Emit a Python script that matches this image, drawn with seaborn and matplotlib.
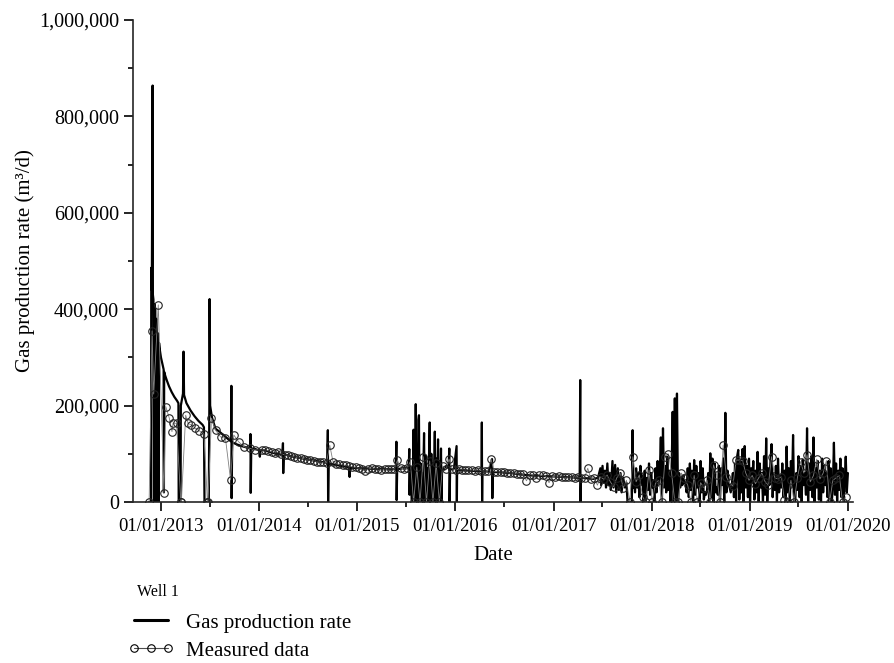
import numpy as np
import pandas as pd
import matplotlib
matplotlib.use("Agg")
import matplotlib.pyplot as plt
import matplotlib.dates as mdates
from matplotlib.ticker import FuncFormatter, MultipleLocator
from matplotlib.lines import Line2D
import seaborn as sns

# ---------------- data (days since 2013-01-01, rates in thousand m3/d) ----------------
ORIGIN = "2013-01-01"

# production-rate line, explicit points (2012-11 .. 2017-10)
rate_days_early = [
    -44, -37, -36, -34, -31, -30, -28, -26, -24, -21,
    -19, -17, -15, -13, -11, -9, -7, -4, 0, 4,
    8, 10, 11, 12, 16, 22, 30, 40, 50, 60,
    65, 66, 73, 74, 82, 84, 86, 95, 110, 125,
    140, 155, 160, 162, 178, 180, 181, 183, 190, 203,
    215, 230, 245, 255, 261, 262, 263, 265, 280, 300,
    320, 332, 333, 334, 336, 350, 365, 368, 370, 388,
    410, 430, 452, 454, 455, 457, 492, 520, 560, 600,
    619, 621, 622, 624, 660, 700, 702, 704, 740, 780,
    820, 860, 874, 876, 877, 879, 900, 922, 924, 925,
    927,
]
rate_k_early = [
    0, 0, 486, 440, 864, 430, 420, 0, 410, 400,
    0, 380, 360, 0, 350, 0, 330, 315, 300, 290,
    280, 275, 20, 270, 262, 252, 240, 228, 218, 210,
    205, 0, 0, 200, 225, 312, 222, 205, 190, 178,
    168, 160, 155, 0, 0, 195, 421, 200, 175, 152,
    147, 140, 133, 128, 126, 241, 8, 124, 120, 116,
    113, 112, 141, 19, 110, 110, 107, 94, 108, 107,
    103, 100, 100, 122, 60, 99, 94, 91, 87, 83,
    81, 149, 0, 80, 76, 72, 52, 71, 70, 69,
    68, 68, 68, 125, 4, 68, 70, 70, 110, 15,
    71,
]

rate_days_2015 = [
    930, 933, 937, 940, 942, 946, 948, 950, 953, 955,
    958, 960, 962, 966, 968, 972, 974, 979, 981, 986,
    988, 992, 994, 1000, 1002, 1006, 1009, 1013, 1015, 1019,
    1021, 1025, 1027, 1031, 1033, 1036, 1038, 1042, 1044, 1046,
]
rate_k_2015 = [
    72, 0, 0, 150, 0, 0, 203, 0, 90, 0,
    170, 180, 0, 80, 0, 60, 0, 143, 0, 95,
    0, 70, 0, 165, 0, 100, 0, 80, 0, 146,
    0, 90, 0, 130, 0, 85, 0, 111, 0, 70,
]

rate_days_2016 = [
    1055, 1062, 1070, 1073, 1074, 1076, 1090, 1100, 1101, 1102,
    1120, 1150, 1180, 1193, 1194, 1195, 1196, 1220, 1232, 1233,
    1235, 1250, 1280, 1300, 1330, 1356, 1380, 1420, 1453, 1500,
    1530, 1558, 1560, 1561, 1563, 1590, 1610, 1626,
]
rate_k_2016 = [
    68, 75, 70, 111, 0, 68, 68, 116, 0, 67,
    66, 65, 64, 64, 165, 0, 64, 63, 89, 8,
    62, 62, 61, 60, 58, 56, 55, 54, 53, 52,
    51, 50, 253, 0, 50, 49, 48, 50,
]

rate_days_2017 = [
    1635, 1638, 1643, 1647, 1652, 1656, 1661, 1665, 1670, 1674,
    1680, 1684, 1690, 1694, 1700, 1704, 1710, 1714, 1720, 1726,
    1732, 1736, 1752, 1755, 1757,
]
rate_k_2017 = [
    70, 35, 75, 40, 65, 30, 80, 35, 60, 25,
    85, 30, 77, 20, 70, 25, 60, 20, 50, 30,
    40, 0, 0, 149, 30,
]

# noisy period 2017-11 .. 2020-01, one reading every 4 days
noisy_start_day = 1760
noisy_step_days = 4
rate_k_noisy = [
    45, 20, 70, 30, 60, 10, 75, 35, 55, 0, 65, 0, 50, 25, 80, 15, 60, 30, 45, 0,
    70, 20, 85, 40, 60, 134, 0, 153, 30, 75, 20, 94, 25, 65, 0, 60, 187, 0, 215, 0,
    225, 0, 60, 30, 50, 35, 55, 40, 45, 20, 70, 10, 80, 25, 65, 0, 87, 15, 75, 30,
    60, 0, 85, 20, 70, 5, 20, 15, 25, 60, 0, 101, 10, 90, 0, 80, 20, 30, 15, 75,
    0, 70, 35, 90, 0, 185, 20, 65, 40, 30, 20, 35, 60, 10, 80, 0, 95, 108, 5, 85,
    20, 110, 0, 116, 30, 75, 10, 90, 0, 70, 40, 85, 5, 65, 20, 104, 0, 80, 30, 60,
    0, 95, 15, 132, 0, 70, 35, 85, 120, 10, 60, 25, 75, 0, 90, 20, 55, 30, 80, 10,
    65, 0, 115, 20, 70, 0, 85, 30, 139, 0, 0, 60, 25, 95, 10, 75, 0, 88, 35, 60,
    15, 153, 0, 80, 25, 95, 10, 134, 0, 70, 30, 85, 5, 65, 0, 90, 20, 75, 35, 60,
    10, 85, 0, 70, 0, 30, 123, 15, 80, 0, 65, 25, 90, 10, 70, 0, 40, 94, 20, 60,
]

# measured data, explicit early points
meas_days_early = [
    -44, -33, -27, -10, 11, 18, 31, 41, 45, 58,
    74, 76, 92, 101, 113, 127, 142, 160, 173, 175,
    188, 203, 222, 240, 259, 271, 289, 308, 333, 351,
    376,
]
meas_k_early = [
    0, 355, 224, 409, 19, 198, 174, 146, 164, 163,
    0, 0, 180, 163, 160, 153, 148, 141, 0, 0,
    174, 149, 135, 132, 46, 139, 125, 115, 111, 108,
    108,
]
# measured data afterwards, one reading every 12 days
meas_start_day = 388
meas_step_days = 12
meas_k_regular = [
    108, 106, 104, 102, 103, 100, 98, 97, 95, 94,
    92, 91, 90, 88, 87, 86, 84, 83, 82, 81,
    118, 84, 79, 78, 77, 76, 74, 73, 72, 70,
    68, 64, 69, 70, 68, 69, 67, 68, 68, 69,
    68, 87, 70, 69, 70, 84, 0, 72, 0, 94,
    0, 85, 0, 80, 0, 75, 68, 89, 68, 67,
    68, 67, 66, 67, 66, 65, 66, 65, 64, 64,
    89, 63, 63, 62, 62, 61, 60, 60, 59, 58,
    58, 44, 57, 56, 49, 55, 55, 54, 40, 53,
    52, 53, 52, 51, 52, 51, 50, 51, 50, 50,
    70, 48, 50, 35, 52, 47, 56, 42, 32, 50,
    60, 29, 45, 0, 94, 42, 56, 11, 0, 66,
    0, 39, 45, 0, 94, 100, 60, 0, 0, 60,
    49, 35, 0, 55, 0, 40, 30, 45, 0, 77,
    56, 0, 118, 52, 39, 33, 87, 87, 86, 60,
    45, 55, 38, 50, 60, 42, 35, 94, 50, 48,
    52, 4, 0, 45, 0, 50, 84, 60, 98, 42,
    55, 89, 48, 60, 86, 0, 45, 50, 55, 0,
    11,
]

y_ticks = [0, 200000, 400000, 600000, 800000, 1000000]
x_label = "Date"
y_label = "Gas production rate (m\u00b3/d)"
legend_title = "Well 1"
legend_labels = ["Gas production rate", "Measured data"]

# ---------------- build tables ----------------
origin = pd.Timestamp(ORIGIN)
noisy_days = [noisy_start_day + noisy_step_days * i for i in range(len(rate_k_noisy))]
rate_days = rate_days_early + rate_days_2015 + rate_days_2016 + rate_days_2017 + noisy_days
rate_k = rate_k_early + rate_k_2015 + rate_k_2016 + rate_k_2017 + rate_k_noisy
rate_df = pd.DataFrame({
    "date": origin + pd.to_timedelta(rate_days, unit="D"),
    "rate": np.array(rate_k, dtype=float) * 1000,
})

meas_reg_days = [meas_start_day + meas_step_days * i for i in range(len(meas_k_regular))]
meas_df = pd.DataFrame({
    "date": origin + pd.to_timedelta(meas_days_early + meas_reg_days, unit="D"),
    "rate": np.array(meas_k_early + meas_k_regular, dtype=float) * 1000,
})

# ---------------- style ----------------
sns.set_style("ticks")
plt.rcParams["font.family"] = ["Liberation Serif", "DejaVu Serif"]
plt.rcParams["axes.linewidth"] = 1.2
plt.rcParams["text.color"] = "black"
plt.rcParams["axes.labelcolor"] = "black"
plt.rcParams["xtick.color"] = "black"
plt.rcParams["ytick.color"] = "black"

fig = plt.figure(figsize=(8.94, 6.63), dpi=100)
ax = fig.add_axes([133 / 894, 1 - 502 / 663, 720 / 894, 482 / 663])

sns.lineplot(data=rate_df, x="date", y="rate", ax=ax, color="black",
             linewidth=1.6, estimator=None, sort=False, legend=False)
sns.lineplot(data=meas_df, x="date", y="rate", ax=ax, color="0.5",
             linewidth=0.6, marker="o", markersize=5.4, markerfacecolor="none",
             markeredgecolor="#222222", markeredgewidth=0.8,
             estimator=None, sort=False, legend=False)

ax.set_ylim(0, 1000000)
ax.set_xlim(pd.Timestamp("2012-09-19"), pd.Timestamp("2020-01-20"))
ax.set_yticks(y_ticks)
ax.yaxis.set_minor_locator(MultipleLocator(100000))
ax.yaxis.set_major_formatter(FuncFormatter(lambda v, p: f"{v:,.0f}"))
ax.xaxis.set_major_locator(mdates.YearLocator())
ax.xaxis.set_minor_locator(mdates.MonthLocator(bymonth=7))
ax.xaxis.set_major_formatter(mdates.DateFormatter("%m/%d/%Y"))

ax.tick_params(axis="both", which="major", direction="out", length=6.5, width=1.2)
ax.tick_params(axis="both", which="minor", direction="out", length=3.5, width=1.2)
ax.tick_params(axis="x", which="major", labelsize=13.5, pad=5)
ax.tick_params(axis="y", which="major", labelsize=14.5, pad=3.5)
sns.despine(ax=ax)

ax.set_xlabel(x_label, fontsize=15, labelpad=8)
ax.set_ylabel(y_label, fontsize=15, labelpad=3)

fig.text(137 / 894, 1 - 592 / 663, legend_title, fontsize=11.5, ha="left", va="center")
h1 = Line2D([], [], color="black", lw=2.2)
h2 = Line2D([], [], color="0.3", lw=0.8, marker="o", markersize=5.4,
            markerfacecolor="none", markeredgecolor="black", markeredgewidth=0.8)
fig.legend([h1, h2], legend_labels, loc="upper left",
           bbox_to_anchor=(128 / 894, 1 - 613 / 663), frameon=False,
           fontsize=15, numpoints=3,
           handlelength=2.2, handletextpad=0.6, labelspacing=0.4,
           borderpad=0, borderaxespad=0)

fig.savefig("out.png", dpi=100)
